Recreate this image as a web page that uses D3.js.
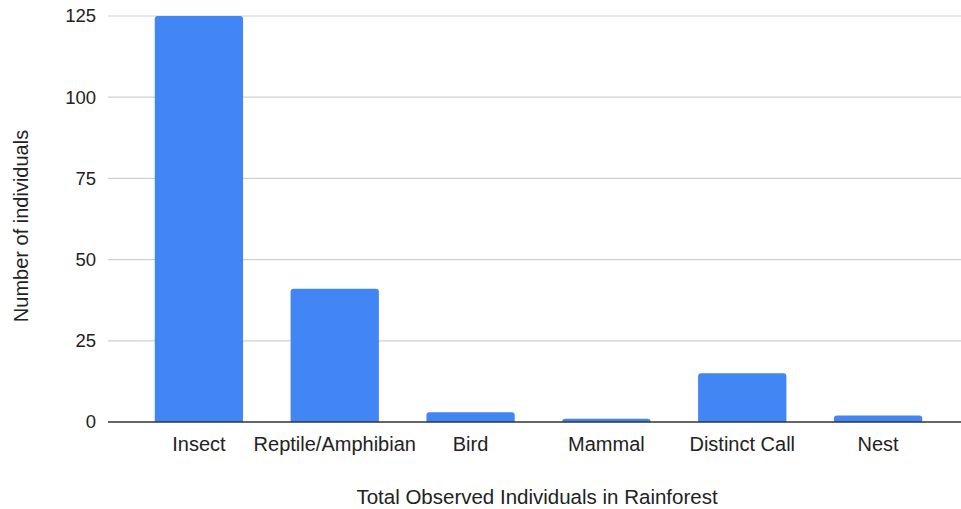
<!DOCTYPE html>
<html>
<head>
<meta charset="utf-8">
<script src="https://cdn.jsdelivr.net/npm/d3@7"></script>
<style>
  html, body { margin: 0; padding: 0; background: #fff; }
  text { font-family: Arial, "Liberation Sans", sans-serif; fill: #222; }
</style>
</head>
<body>
<svg id="chart" width="961" height="509"></svg>
<script>
const categories = ["Insect", "Reptile/Amphibian", "Bird", "Mammal", "Distinct Call", "Nest"];
const counts = [125, 41, 3, 1, 15, 2];
const yTicks = [0, 25, 50, 75, 100, 125];
const xTitle = "Total Observed Individuals in Rainforest";
const yTitle = "Number of individuals";

const svg = d3.select("#chart");
const plot = { left: 108, right: 961, top: 16, bottom: 422 };

const x = d3.scaleBand().domain(categories).range([131, 946]).paddingInner(0.35).paddingOuter(0.175);
const y = d3.scaleLinear().domain([0, 125]).range([plot.bottom, plot.top]);

// horizontal gridlines
svg.append("g").selectAll("line").data(yTicks.filter(d => d !== 0)).join("line")
  .attr("x1", plot.left).attr("x2", plot.right)
  .attr("y1", d => y(d)).attr("y2", d => y(d))
  .attr("stroke", "#d0d0d0").attr("stroke-width", 1.2);

// y tick labels
svg.append("g").selectAll("text").data(yTicks).join("text")
  .attr("x", 96).attr("y", d => y(d)).attr("dy", "0.35em")
  .attr("text-anchor", "end").attr("font-size", 18.5)
  .text(d => d);

// bars with rounded top corners
function barPath(x0, w, yTop, yBase, r) {
  r = Math.min(r, (yBase - yTop), w / 2);
  return `M${x0},${yBase}V${yTop + r}Q${x0},${yTop} ${x0 + r},${yTop}H${x0 + w - r}Q${x0 + w},${yTop} ${x0 + w},${yTop + r}V${yBase}Z`;
}
svg.append("g").selectAll("path").data(categories).join("path")
  .attr("d", (c, i) => barPath(x(c), x.bandwidth(), y(counts[i]), y(0), 3))
  .attr("fill", "#4285f4");

// baseline
svg.append("line")
  .attr("x1", plot.left).attr("x2", plot.right)
  .attr("y1", y(0)).attr("y2", y(0))
  .attr("stroke", "#333").attr("stroke-width", 1.3);

// category labels
svg.append("g").selectAll("text").data(categories).join("text")
  .attr("x", c => x(c) + x.bandwidth() / 2).attr("y", 451)
  .attr("text-anchor", "middle").attr("font-size", 20)
  .text(c => c);

// axis titles
svg.append("text")
  .attr("x", 537).attr("y", 504)
  .attr("text-anchor", "middle").attr("font-size", 20.5)
  .text(xTitle);

svg.append("text")
  .attr("transform", "translate(28,226) rotate(-90)")
  .attr("text-anchor", "middle").attr("font-size", 20)
  .text(yTitle);
</script>
</body>
</html>
